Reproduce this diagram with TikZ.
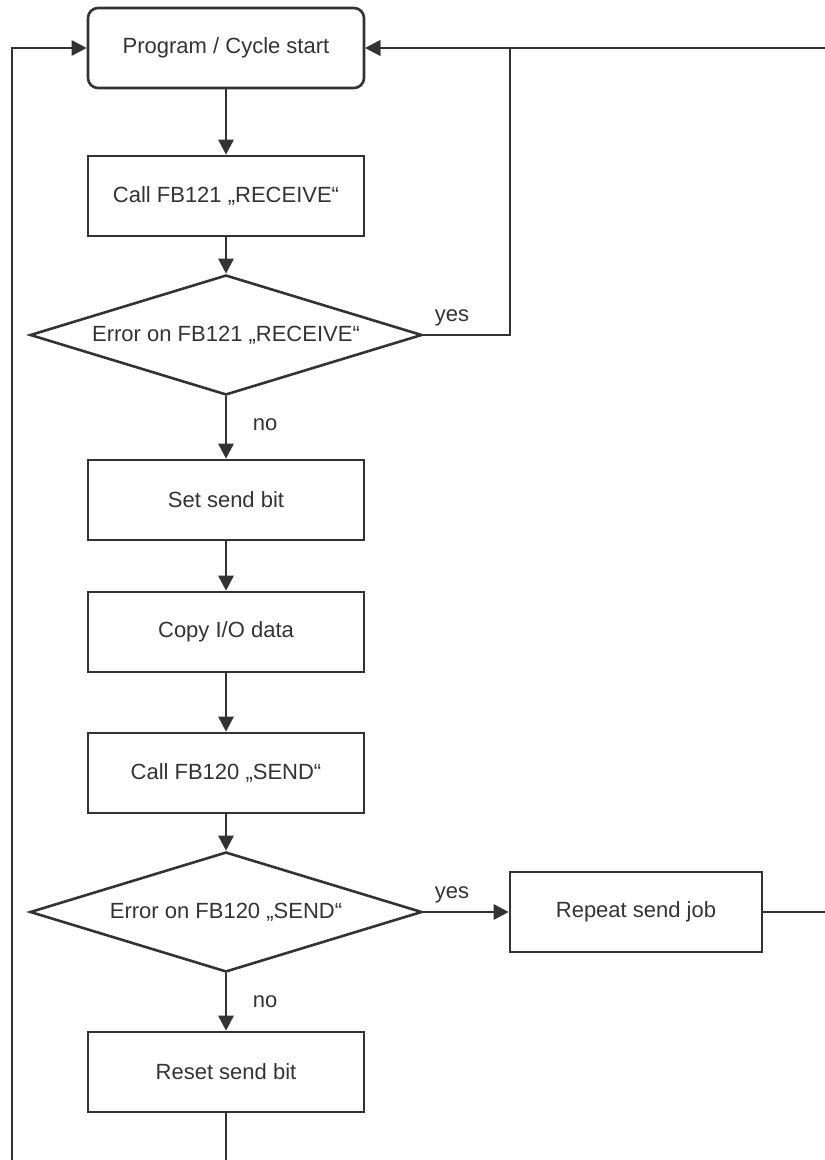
\documentclass[tikz,border=0pt]{standalone}
\usepackage{fontspec}
\setmainfont{Liberation Sans}
\usetikzlibrary{shapes.geometric,arrows.meta}
\definecolor{ink}{HTML}{333333}

\begin{document}
\begin{tikzpicture}[x=0.5pt,y=-0.5pt,
    font=\fontsize{11}{13}\selectfont, text=ink,
    stepbox/.style={draw=ink, line width=1.3pt, minimum width=138pt, minimum height=40pt, inner sep=0pt},
    startbox/.style={stepbox, rounded corners=5pt},
    testbox/.style={draw=ink, line width=1.3pt, diamond, aspect=3.27, minimum width=196pt, minimum height=60pt, inner sep=0pt},
    flow/.style={draw=ink, line width=1.3pt, -{Triangle[length=7.5pt,width=7.5pt]}},
    answer/.style={inner sep=1pt}]
  \useasboundingbox (0,0) rectangle (824,1160);

  % main chain
  \node (start) at (226,48) [startbox] {Program / Cycle start};
  \node (recv) at (226,196) [stepbox] {Call FB121 „RECEIVE“};
  \node (err1) at (226,335) [testbox] {Error on FB121 „RECEIVE“};
  \node (setbit) at (226,500) [stepbox] {Set send bit};
  \node (copyio) at (226,632) [stepbox] {Copy I/O data};
  \node (send) at (226,773) [stepbox] {Call FB120 „SEND“};
  \node (err2) at (226,912) [testbox] {Error on FB120 „SEND“};
  \node (reset) at (226,1072) [stepbox] {Reset send bit};

  % retry branch
  \node (repeat) at (636,912) [stepbox, minimum width=126pt] {Repeat send job};

  \node (yes1) at (452,318) [answer] {yes};
  \node (no1) at (265,425) [answer] {no};
  \node (yes2) at (452,895) [answer] {yes};
  \node (no2) at (265,1002) [answer] {no};

  % loop corners (the outer ones lie past the page edge)
  \coordinate (yesturn) at (510,48);
  \coordinate (rightturn) at (850,48);
  \coordinate (downturn) at (12,1185);

  \draw[flow] (start) -- (recv);
  \draw[flow] (recv) -- (err1);
  \draw[flow] (err1) -- (setbit);
  \draw[flow] (setbit) -- (copyio);
  \draw[flow] (copyio) -- (send);
  \draw[flow] (send) -- (err2);
  \draw[flow] (err2) -- (reset);
  \draw[flow] (err2) -- (repeat);
  \draw[flow] (err1.east) -| (yesturn) -- (start.east);
  \draw[flow] (repeat.east) -| (rightturn) -- (start.east);
  \draw[flow] (reset.south) |- (downturn) |- (start.west);
\end{tikzpicture}
\end{document}
